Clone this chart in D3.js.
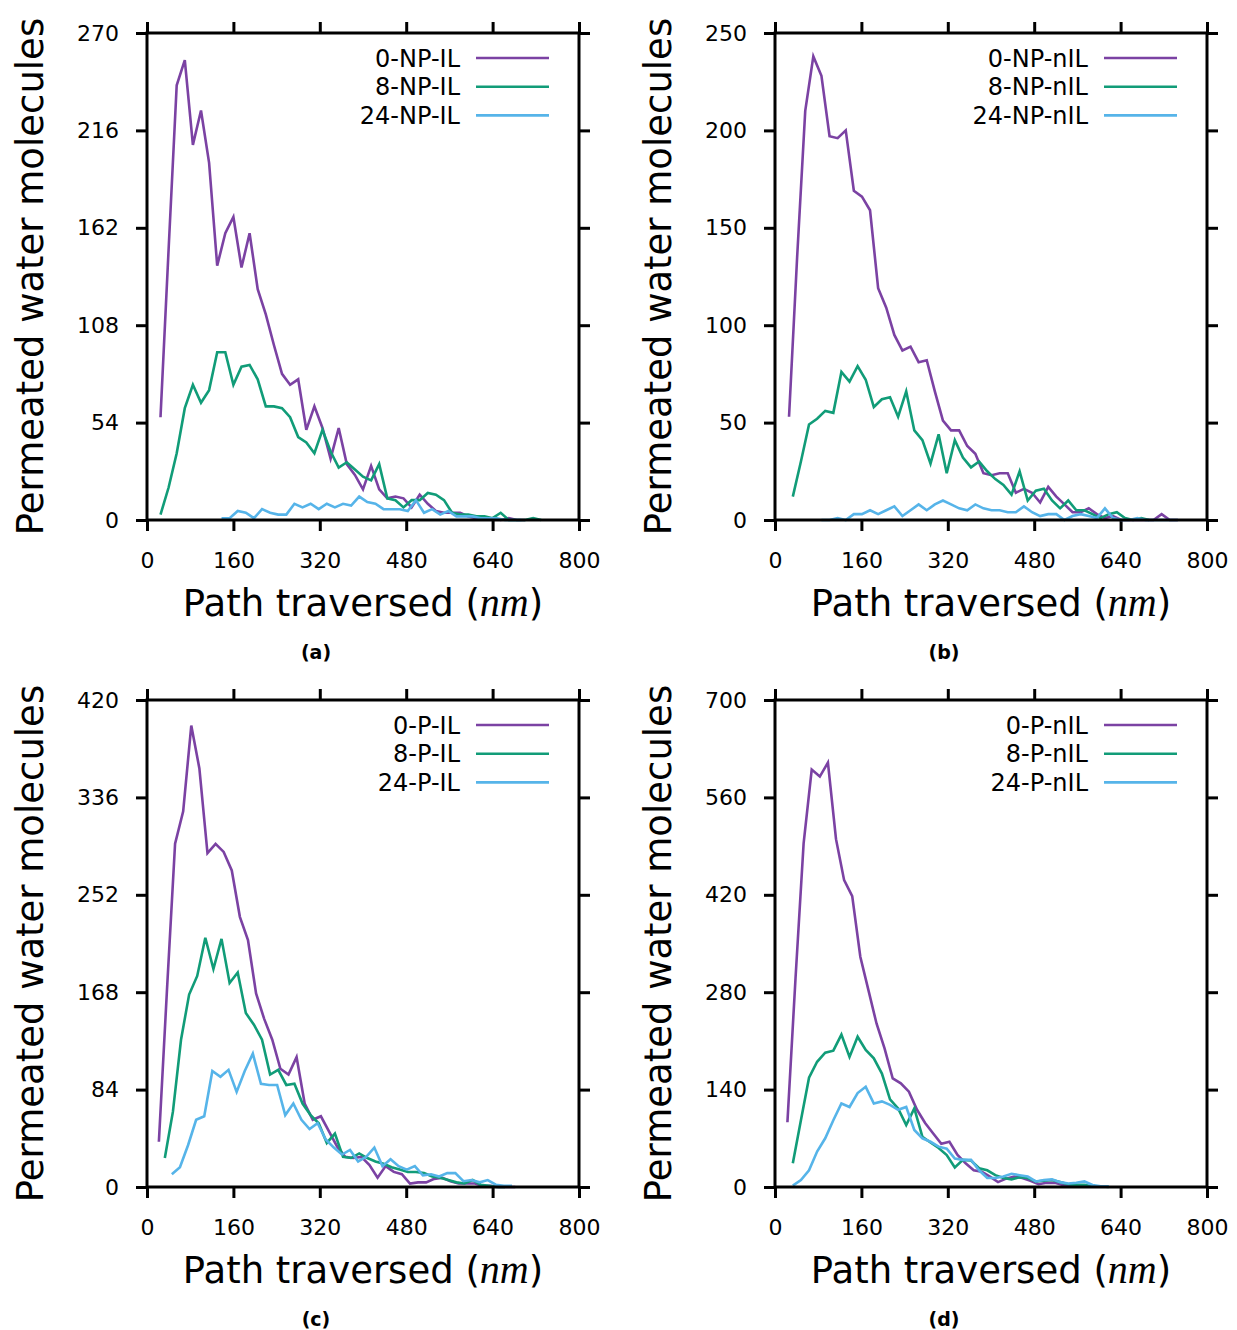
<!DOCTYPE html>
<html>
<head>
<meta charset="utf-8">
<script src="https://cdn.jsdelivr.net/npm/d3@7"></script>
<style>
  body { margin: 0; background: #fff; }
  svg { display: block; }
  text { font-family: "DejaVu Sans", sans-serif; fill: #000; }
</style>
</head>
<body>
<svg id="canvas" width="1237" height="1330"></svg>
<script>
// bins are 15 nm wide, each series starts at its own first bin
const binStep = 15;
const xTicks = [0, 160, 320, 480, 640, 800];

// (a) NP-IL
const npIL0 = [57,150,241,255,208,227,198,141,159,168,140,159,128,114,97,81,75,78,50,63,51,34,51,31,25,17,30,17,12,13,12,7,14,9,5,4,4,4,2,1,1,1,0,1,0,0];
const npIL8 = [3,18,37,62,75,65,72,93,93,75,85,86,78,63,63,62,57,46,43,37,50,38,29,32,28,24,22,31,12,11,7,11,11,15,14,11,4,3,3,2,2,1,4,0,0,0,1,0];
const npIL24 = [1,1,5,4,1,6,4,3,3,9,7,9,6,9,7,9,8,13,10,9,6,6,6,5,11,4,6,3,5,2,2,2,1,1,1,0,0,0];
const npILStart = [25, 25, 138];

// (b) NP-nIL
const npnIL0 = [53,135,210,238,228,197,196,200,169,166,159,119,109,95,87,89,81,82,66,51,46,46,38,34,24,23,24,24,14,16,14,9,17,12,8,4,4,6,3,1,2,0,0,0,0,0,3,0,0];
const npnIL8 = [12,30,49,52,56,55,76,71,79,72,58,62,63,53,66,46,41,29,44,24,41,32,27,30,25,21,18,13,25,10,15,16,10,6,10,5,5,3,1,3,4,1,0,1,0];
const npnIL24 = [0,0,1,0,3,3,5,3,5,7,2,5,8,5,8,10,8,6,5,8,6,5,5,4,4,7,4,2,3,3,0,2,3,2,1,6,1,0,0,1,0,0,0,0,0];
const npnILStart = [26, 33, 86];

// (c) P-IL
const pIL0 = [39,170,296,324,398,361,288,296,289,273,233,213,167,145,127,102,97,112,72,58,61,48,35,26,25,26,19,8,18,13,11,3,4,4,7,8,5,3,3,3,1,1,0,0,0];
const pIL8 = [25,65,127,166,182,215,188,214,176,185,150,140,127,97,101,88,89,72,62,55,38,46,26,25,29,25,22,20,17,15,13,13,12,9,8,6,4,3,6,2,1,0,0];
const pIL24 = [11,17,36,58,61,100,95,101,82,100,115,89,88,88,62,72,58,50,55,41,34,28,32,22,26,34,18,24,18,15,18,10,11,9,12,12,5,6,4,6,2,1,1];
const pILStart = [22, 33, 46];

// (d) P-nIL
const pnIL0 = [93,300,494,600,590,610,500,441,418,331,283,235,199,156,149,137,111,92,77,62,65,46,34,24,22,15,7,12,15,13,9,4,6,6,3,2,1,1,1,1];
const pnIL8 = [34,96,157,180,193,196,219,187,216,197,185,163,126,113,89,113,72,64,56,46,28,39,38,27,24,17,13,11,14,13,8,9,10,7,4,3,3,1,1,0];
const pnIL24 = [2,10,24,51,70,96,120,115,135,144,120,123,118,111,115,82,70,65,58,55,41,39,39,24,13,13,15,19,17,15,8,10,11,7,5,6,8,3,1,1];
const pnILStart = [23, 33, 33];

const colors = ["#7b42a3", "#119c78", "#56b4e9"];

const panels = [
    { left: 147, top: 33, yTicks: [0, 54, 108, 162, 216, 270], tag: "(a)",
      names: ["0-NP-IL", "8-NP-IL", "24-NP-IL"], series: [npIL0, npIL8, npIL24], starts: npILStart },
    { left: 775, top: 33, yTicks: [0, 50, 100, 150, 200, 250], tag: "(b)",
      names: ["0-NP-nIL", "8-NP-nIL", "24-NP-nIL"], series: [npnIL0, npnIL8, npnIL24], starts: npnILStart },
    { left: 147, top: 700, yTicks: [0, 84, 168, 252, 336, 420], tag: "(c)",
      names: ["0-P-IL", "8-P-IL", "24-P-IL"], series: [pIL0, pIL8, pIL24], starts: pILStart },
    { left: 775, top: 700, yTicks: [0, 140, 280, 420, 560, 700], tag: "(d)",
      names: ["0-P-nIL", "8-P-nIL", "24-P-nIL"], series: [pnIL0, pnIL8, pnIL24], starts: pnILStart }
];

const W = 432;
const H = 487;
const tickLen = 11;

const svg = d3.select("#canvas");

panels.forEach(p => {
    const g = svg.append("g").attr("transform", `translate(${p.left},${p.top})`);

    const x = d3.scaleLinear().domain([0, 800]).range([0, W]);
    const y = d3.scaleLinear().domain([0, d3.max(p.yTicks)]).range([H, 0]);

    // axes, ticks point outward on every side
    const axes = [
        { ax: d3.axisBottom(x).tickValues(xTicks).tickPadding(21), at: `translate(0,${H})`, labels: true },
        { ax: d3.axisTop(x).tickValues(xTicks), at: "translate(0,0)", labels: false },
        { ax: d3.axisLeft(y).tickValues(p.yTicks).tickPadding(17), at: "translate(0,0)", labels: true },
        { ax: d3.axisRight(y).tickValues(p.yTicks), at: `translate(${W},0)`, labels: false }
    ];
    axes.forEach(a => {
        const ag = g.append("g")
            .attr("transform", a.at)
            .call(a.ax.tickSize(tickLen).tickSizeOuter(0));
        ag.select(".domain").remove();
        ag.selectAll(".tick line").attr("stroke", "#000").attr("stroke-width", 3);
        ag.selectAll(".tick text")
            .style("font-family", "DejaVu Sans")
            .style("font-size", "22px")
            .attr("fill", "#000");
        if (!a.labels) ag.selectAll(".tick text").remove();
    });

    // data lines
    const line = d3.line()
        .x(d => x(d[0]))
        .y(d => y(d[1]));

    p.series.forEach((vals, k) => {
        const pts = vals.map((v, i) => [p.starts[k] + i * binStep, v]);
        g.append("path")
            .datum(pts)
            .attr("fill", "none")
            .attr("stroke", colors[k])
            .attr("stroke-width", 2.6)
            .attr("stroke-linejoin", "miter")
            .attr("d", line);
    });

    // frame
    g.append("rect")
        .attr("width", W)
        .attr("height", H)
        .attr("fill", "none")
        .attr("stroke", "#000")
        .attr("stroke-width", 3);

    // legend
    p.names.forEach((name, k) => {
        const ly = 25 + k * 28.7;
        g.append("text")
            .attr("x", 313)
            .attr("y", ly)
            .attr("dy", "0.36em")
            .attr("text-anchor", "end")
            .style("font-size", "24px")
            .text(name);
        g.append("line")
            .attr("x1", 329)
            .attr("x2", 402)
            .attr("y1", ly)
            .attr("y2", ly)
            .attr("stroke", colors[k])
            .attr("stroke-width", 2.6);
    });

    // axis titles
    g.append("text")
        .attr("transform", `translate(-104,${H / 2}) rotate(-90)`)
        .attr("text-anchor", "middle")
        .style("font-size", "37px")
        .text("Permeated water molecules");

    const xt = g.append("text")
        .attr("x", W / 2)
        .attr("y", H + 96)
        .attr("text-anchor", "middle")
        .style("font-size", "37px");
    xt.append("tspan").text("Path traversed (");
    xt.append("tspan")
        .style("font-family", "Liberation Serif, serif")
        .style("font-style", "italic")
        .style("font-size", "40px")
        .text("nm");
    xt.append("tspan").text(")");

    // panel tag
    g.append("text")
        .attr("x", W / 2 - 47)
        .attr("y", H + 139)
        .attr("text-anchor", "middle")
        .style("font-size", "19px")
        .style("font-weight", "bold")
        .text(p.tag);
});
</script>
</body>
</html>
